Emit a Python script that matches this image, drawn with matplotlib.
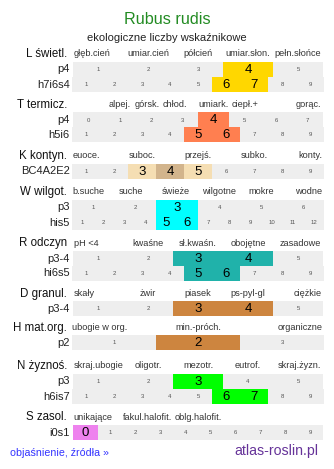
import matplotlib
matplotlib.use("Agg")
import matplotlib.pyplot as plt

plt.rcParams['font.family'] = ['Liberation Sans', 'DejaVu Sans']

# ---------------- data ----------------
title = "Rubus rudis"
subtitle = "ekologiczne liczby wskaźnikowe"

sec_names = ["L świetl.", "T termicz.", "K kontyn.", "W wilgot.", "R odczyn",
             "D granul.", "H mat.org.", "N żyznoś.", "S zasol."]

L_labels = ["głęb.cień", "umiar.cień", "półcień", "umiar.słon.", "pełn.słońce"]
T_labels = ["alpej.", "górsk.", "chłod.", "umiark.", "ciepł.+", "gorąc."]
K_labels = ["euoce.", "suboc.", "przejś.", "subko.", "konty."]
W_labels = ["b.suche", "suche", "świeże", "wilgotne", "mokre", "wodne"]
R_labels = ["pH <4", "kwaśne", "sł.kwaśn.", "obojętne", "zasadowe"]
D_labels = ["skały", "żwir", "piasek", "ps-pyl-gl", "ciężkie"]
H_labels = ["ubogie w org.", "min.-próch.", "organiczne"]
N_labels = ["skraj.ubogie", "oligotr.", "mezotr.", "eutrof.", "skraj.żyzn."]
S_labels = ["unikające", "fakul.halofit.", "oblg.halofit."]

L_rows = ["p4", "h7i6s4"]
L_scales = [[1, 2, 3, 4, 5], [1, 2, 3, 4, 5, 6, 7, 8, 9]]
L_values = [[4], [6, 7]]

T_rows = ["p4", "h5i6"]
T_scales = [[0, 1, 2, 3, 4, 5, 6, 7], [1, 2, 3, 4, 5, 6, 7, 8, 9]]
T_values = [[4], [5, 6]]

K_rows = ["BC4A2E2"]
K_scales = [[1, 2, 3, 4, 5, 6, 7, 8, 9]]
K_values = [[3, 4, 5]]
K_main = 4

W_rows = ["p3", "his5"]
W_scales = [[1, 2, 3, 4, 5, 6], [1, 2, 3, 4, 5, 6, 7, 8, 9, 10, 11, 12]]
W_values = [[3], [5, 6]]

R_rows = ["p3-4", "hi6s5"]
R_scales = [[1, 2, 3, 4, 5], [1, 2, 3, 4, 5, 6, 7, 8, 9]]
R_values = [[3, 4], [5, 6]]

D_rows = ["p3-4"]
D_scales = [[1, 2, 3, 4, 5]]
D_values = [[3, 4]]

H_rows = ["p2"]
H_scales = [[1, 2, 3]]
H_values = [[2]]

N_rows = ["p3", "h6is7"]
N_scales = [[1, 2, 3, 4, 5], [1, 2, 3, 4, 5, 6, 7, 8, 9]]
N_values = [[3], [6, 7]]

S_rows = ["i0s1"]
S_scales = [[0, 1, 2, 3, 4, 5, 6, 7, 8, 9]]
S_values = [[0]]

footer_left = "objaśnienie, źródła »"
footer_right = "atlas-roslin.pl"

# ---------------- layout / style ----------------
GREY = "#eeeeee"
sections = [
    dict(name=sec_names[0], labels=L_labels, rows=L_rows, scales=L_scales, values=L_values,
         color="#ffd700", top=62, hdr_grid=5, hdr_slots=[0, 1, 2, 3, 4]),
    dict(name=sec_names[1], labels=T_labels, rows=T_rows, scales=T_scales, values=T_values,
         color="#ff7f50", top=112.5, hdr_grid=8, hdr_slots=[1, 1.88, 2.76, 4, 5.02, 7]),
    dict(name=sec_names[2], labels=K_labels, rows=K_rows, scales=K_scales, values=K_values,
         color="#f5deb3", top=164, hdr_grid=9, hdr_slots=[0, 2, 4, 6, 8]),
    dict(name=sec_names[3], labels=W_labels, rows=W_rows, scales=W_scales, values=W_values,
         color="#00ffff", top=200, hdr_grid=6, hdr_slots=[0, 0.9, 1.98, 3, 4, 5]),
    dict(name=sec_names[4], labels=R_labels, rows=R_rows, scales=R_scales, values=R_values,
         color="#20b2aa", top=251, hdr_grid=5, hdr_slots=[0, 1, 2, 3, 4]),
    dict(name=sec_names[5], labels=D_labels, rows=D_rows, scales=D_scales, values=D_values,
         color="#cd853f", top=301.5, hdr_grid=5, hdr_slots=[0, 1, 2, 3, 4]),
    dict(name=sec_names[6], labels=H_labels, rows=H_rows, scales=H_scales, values=H_values,
         color="#cd853f", top=335.5, hdr_grid=3, hdr_slots=[0, 1, 2]),
    dict(name=sec_names[7], labels=N_labels, rows=N_rows, scales=N_scales, values=N_values,
         color="#00ff00", top=374, hdr_grid=5, hdr_slots=[0, 1, 2, 3, 4]),
    dict(name=sec_names[8], labels=S_labels, rows=S_rows, scales=S_scales, values=S_values,
         color="#ee82ee", top=425, hdr_grid=5, hdr_slots=[0, 1, 2]),
]
ROW_H = 15
K_DARK = "#d2b48c"

fig = plt.figure(figsize=(3.34, 4.69), dpi=100)
ax = fig.add_axes([0, 0, 1, 1])
ax.set_xlim(0, 334)
ax.set_ylim(469, 0)
ax.axis("off")

ax.text(167, 20, title, ha="center", va="center", fontsize=11.6, color="#228b22")
ax.text(167, 38, subtitle, ha="center", va="center", fontsize=8, color="#222222")


def extent(n):
    if 252 % n == 0:
        return 72.0, 252.0
    return 73.0, 250.0


for sec in sections:
    top = sec["top"]
    # section header
    ax.text(67, top - 8, sec["name"], ha="right", va="center", fontsize=8.3, color="#111111")
    # header labels
    g0, gw = extent(sec["hdr_grid"])
    gcw = gw / sec["hdr_grid"]
    nlab = len(sec["labels"])
    for i, (lab, slot) in enumerate(zip(sec["labels"], sec["hdr_slots"])):
        if slot == 0:
            x, ha = g0 + 0.5, "left"
        elif i == nlab - 1 and slot == sec["hdr_grid"] - 1:
            x, ha = g0 + gw - 1.5, "right"
        else:
            x, ha = g0 + (slot + 0.5) * gcw, "center"
        ax.text(x, top - 8, lab, ha=ha, va="center", fontsize=6.6, color="#333333")
    # rows
    for r, (rname, scale, vals) in enumerate(zip(sec["rows"], sec["scales"], sec["values"])):
        y0 = top + r * ROW_H
        n = len(scale)
        x0, w = extent(n)
        cw = w / n
        lefts = [x0 + i * cw for i in range(n)]
        colors = []
        for v in scale:
            if v in vals:
                if sec["name"] == sec_names[2] and v == K_main:
                    colors.append(K_DARK)
                else:
                    colors.append(sec["color"])
            else:
                colors.append(GREY)
        ax.bar(lefts, [ROW_H] * n, width=cw, bottom=y0, align="edge",
               color=colors, linewidth=0)
        for lx, v in zip(lefts, scale):
            if v in vals:
                ax.text(lx + cw / 2, y0 + ROW_H / 2 + 0.3, str(v), ha="center", va="center",
                        fontsize=9.5, color="#000000")
            else:
                ax.text(lx + cw / 2, y0 + ROW_H / 2, str(v), ha="center", va="center",
                        fontsize=4.3, color="#555555")
        ax.text(69.5, y0 + ROW_H / 2, rname, ha="right", va="center", fontsize=8,
                color="#222222")

ax.text(10, 452.7, footer_left, ha="left", va="center", fontsize=7.7, color="#3333ff")
ax.text(318, 450.7, footer_right, ha="right", va="center", fontsize=10.2, color="#663399")

fig.savefig("out.png", dpi=100)
